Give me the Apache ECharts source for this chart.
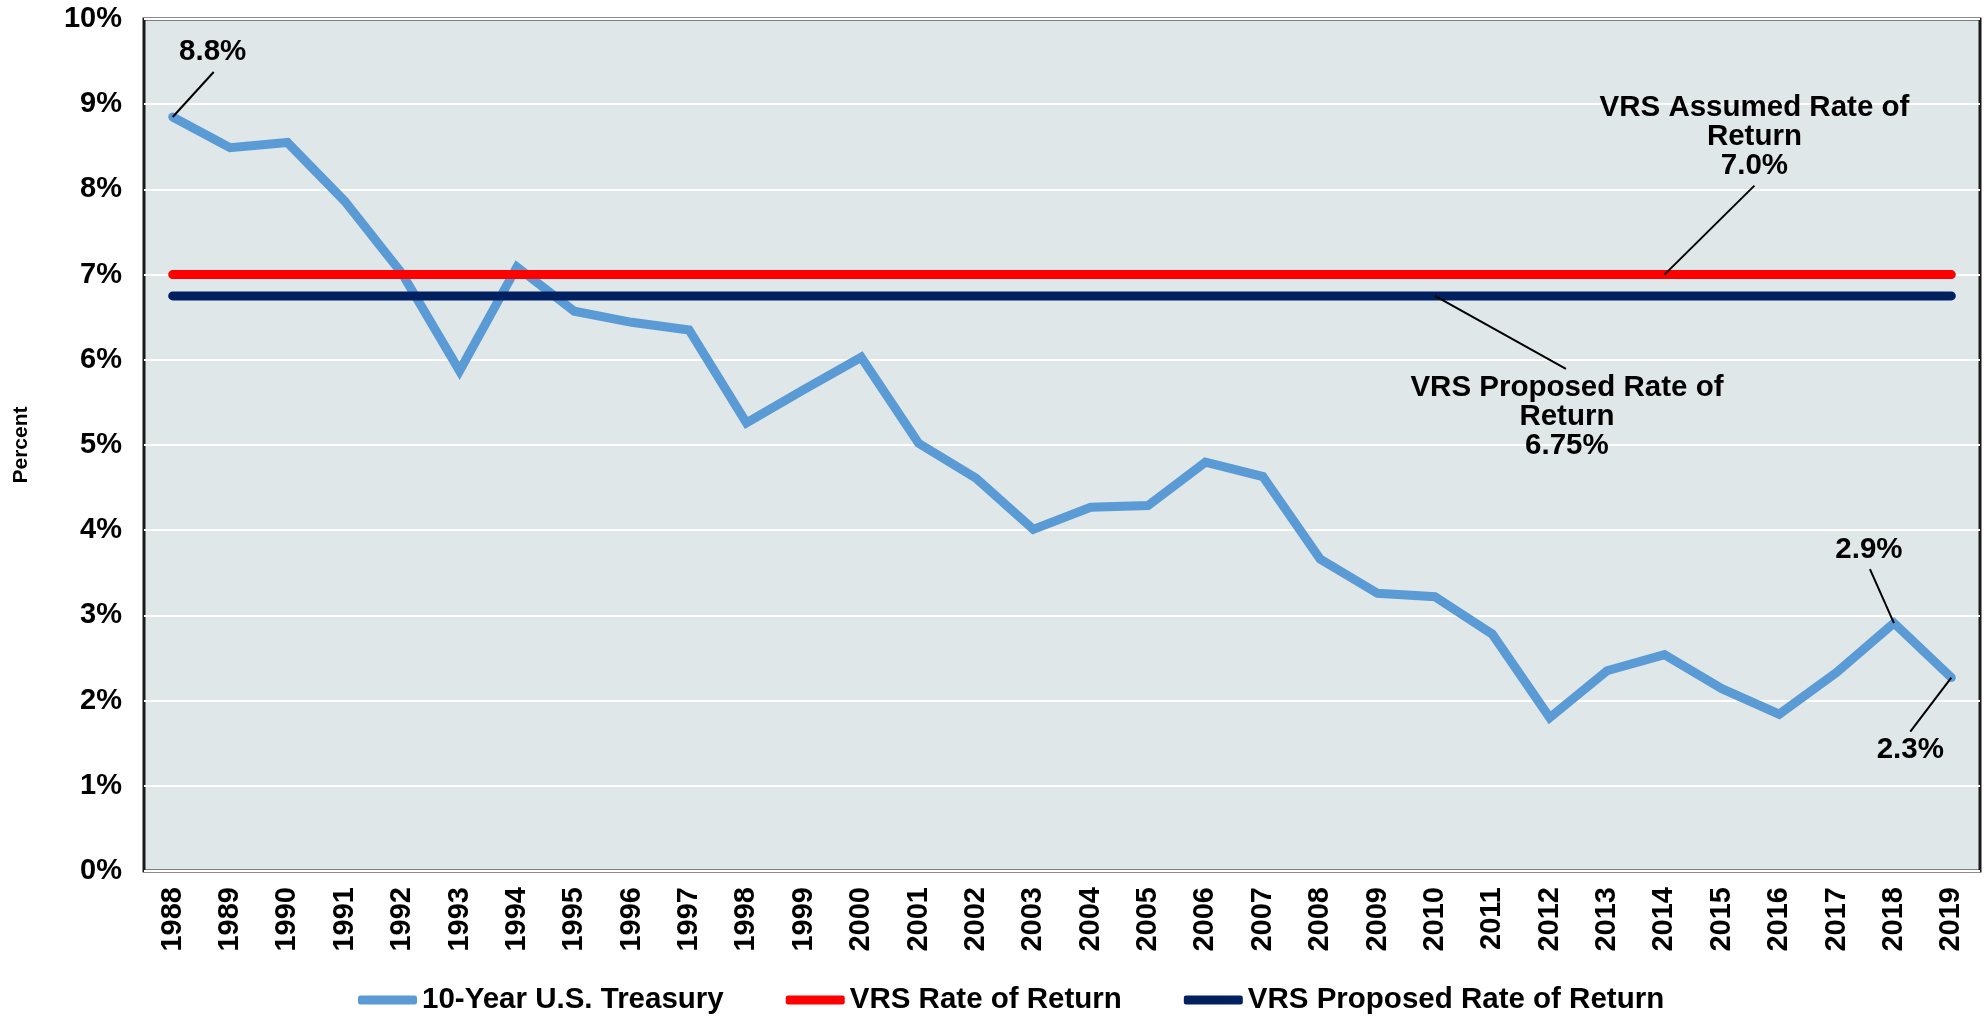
<!DOCTYPE html>
<html>
<head>
<meta charset="utf-8">
<title>10-Year U.S. Treasury vs VRS Rate of Return</title>
<script src="https://cdn.jsdelivr.net/npm/echarts@6/dist/echarts.min.js"></script>
<style>
  html, body { margin: 0; padding: 0; background: #fff; }
  #chart { width: 1987px; height: 1023px; }
</style>
</head>
<body>
<div id="chart"></div>
<script>
// 横轴年份
const years = ['1988', '1989', '1990', '1991', '1992', '1993', '1994', '1995', '1996', '1997',
  '1998', '1999', '2000', '2001', '2002', '2003', '2004', '2005', '2006', '2007',
  '2008', '2009', '2010', '2011', '2012', '2013', '2014', '2015', '2016', '2017',
  '2018', '2019']
// 10年期国债收益率 (%)
const treasuryYield = [8.85, 8.49, 8.55, 7.86, 7.01, 5.87, 7.09, 6.57, 6.44, 6.35,
  5.26, 5.65, 6.03, 5.02, 4.61, 4.01, 4.27, 4.29, 4.80, 4.63,
  3.66, 3.26, 3.22, 2.78, 1.80, 2.35, 2.54, 2.14, 1.84, 2.33,
  2.91, 2.27]
// VRS 假设回报率 / 拟议回报率
const assumedRate = 7.0
const proposedRate = 6.75
// 纵轴刻度
const yTicks = [0, 1, 2, 3, 4, 5, 6, 7, 8, 9, 10]

const seriesNames = ['10-Year U.S. Treasury', 'VRS Rate of Return', 'VRS Proposed Rate of Return']

const FONT = '"Liberation Sans", Arial, sans-serif'

const myChart = echarts.init(document.querySelector('#chart'))

const option = {
  animation: false,
  textStyle: { fontFamily: FONT },
  grid: {
    left: 144,
    right: 7,
    top: 19,
    bottom: 152,
    show: true,
    backgroundColor: '#E0E7E9',
    borderColor: '#1a1a1a',
    borderWidth: 3
  },
  legend: {
    data: seriesNames,
    bottom: 3,
    left: 353,
    icon: 'roundRect',
    itemWidth: 59,
    itemHeight: 9,
    itemGap: 62,
    textStyle: {
      fontFamily: FONT,
      fontWeight: 'bold',
      fontSize: 29.5,
      color: '#000'
    }
  },
  xAxis: {
    type: 'category',
    data: years,
    axisLine: { show: false },
    axisTick: { show: false },
    axisLabel: {
      rotate: 90,
      margin: 16,
      color: '#000',
      fontWeight: 'bold',
      fontSize: 29,
      fontFamily: FONT
    }
  },
  yAxis: {
    type: 'value',
    min: yTicks[0],
    max: yTicks[yTicks.length - 1],
    interval: 1,
    name: 'Percent',
    nameLocation: 'middle',
    nameRotate: 90,
    nameGap: 112,
    nameTextStyle: {
      color: '#000',
      fontWeight: 'bold',
      fontSize: 21,
      fontFamily: FONT
    },
    axisLine: { show: false },
    axisTick: { show: false },
    axisLabel: {
      formatter: '{value}%',
      margin: 22,
      color: '#000',
      fontWeight: 'bold',
      fontSize: 29,
      fontFamily: FONT
    },
    splitLine: {
      lineStyle: { color: '#fff', width: 2 }
    }
  },
  series: [
    {
      name: seriesNames[0],
      type: 'line',
      data: treasuryYield,
      symbol: 'none',
      color: '#5B9BD5',
      lineStyle: { width: 9, color: '#5B9BD5', cap: 'round', join: 'miter' }
    },
    {
      name: seriesNames[1],
      type: 'line',
      data: years.map(() => assumedRate),
      symbol: 'none',
      color: '#FF0000',
      lineStyle: { width: 9, color: '#FF0000', cap: 'round' }
    },
    {
      name: seriesNames[2],
      type: 'line',
      data: years.map(() => proposedRate),
      symbol: 'none',
      color: '#002060',
      lineStyle: { width: 9, color: '#002060', cap: 'round' }
    }
  ]
}

myChart.setOption(option)

// 标注：锚点取自数据，文字和引线按像素偏移
const callouts = [
  { series: 0, index: 0, text: '8.8%', tx: 40, ty: -65, lx: 41, ly: -45 },
  { series: 0, index: 30, text: '2.9%', tx: -25, ty: -73, lx: -24, ly: -54 },
  { series: 0, index: 31, text: '2.3%', tx: -41, ty: 72, lx: -41, ly: 54 },
  { series: 1, index: 26, text: 'VRS Assumed Rate of\nReturn\n7.0%', tx: 90, ty: -138, lx: 90, ly: -89 },
  { series: 2, index: 22, text: 'VRS Proposed Rate of\nReturn\n6.75%', tx: 132, ty: 121, lx: 131, ly: 73 }
]

const graphics = []
callouts.forEach(c => {
  const value = option.series[c.series].data[c.index]
  const [px, py] = myChart.convertToPixel({ seriesIndex: c.series }, [c.index, value])
  graphics.push({
    type: 'line',
    z: 100,
    shape: { x1: px, y1: py, x2: px + c.lx, y2: py + c.ly },
    style: { stroke: '#000', lineWidth: 2 }
  })
  graphics.push({
    type: 'text',
    z: 100,
    x: px + c.tx,
    y: py + c.ty,
    style: {
      text: c.text,
      align: 'center',
      verticalAlign: 'middle',
      fontFamily: FONT,
      fontWeight: 'bold',
      fontSize: 29.5,
      lineHeight: 29,
      fill: '#000'
    }
  })
})

myChart.setOption({ graphic: graphics })
</script>
</body>
</html>
